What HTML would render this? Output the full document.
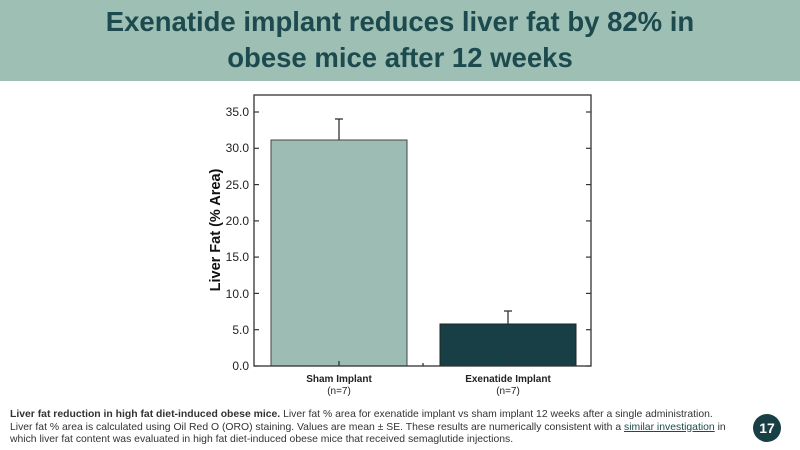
<!DOCTYPE html>
<html><head><meta charset="utf-8"><style>
body{margin:0;width:800px;height:450px;background:#fff;font-family:"Liberation Sans",sans-serif;overflow:hidden;position:relative}
.hdr{position:absolute;left:0;top:0;width:800px;height:81px;background:#9ebfb3}
.hdr div{text-align:center;color:#1d4a4e;font-weight:bold;font-size:27.5px;line-height:36px;padding-top:4px}
.cap{position:absolute;left:10px;top:409px;width:720px;font-size:10.4px;line-height:12.5px;color:#333}
.cap a{color:#1d4a4e;text-decoration:underline}
.num{position:absolute;left:753px;top:414px;width:28px;height:28px;border-radius:50%;background:#173f45;color:#fff;font-weight:bold;font-size:14px;text-align:center;line-height:28px}
</style></head><body>
<div class="hdr"><div>Exenatide implant reduces liver fat by 82% in<br>obese mice after 12 weeks</div></div>
<svg width="800" height="450" style="position:absolute;left:0;top:0">
<rect x="271" y="140" width="136" height="226" fill="#9dbdb4" stroke="#444" stroke-width="1"/>
<rect x="440" y="324" width="136" height="42" fill="#173f45" stroke="#222" stroke-width="1"/>
<g stroke="#333" stroke-width="1.3">
<line x1="339" y1="140" x2="339" y2="119"/><line x1="335" y1="119" x2="343" y2="119"/>
<line x1="508" y1="324" x2="508" y2="311"/><line x1="504" y1="311" x2="512" y2="311"/>
<line x1="339" y1="366" x2="339" y2="361"/><line x1="508" y1="366" x2="508" y2="361"/><line x1="423" y1="366" x2="423" y2="363"/>
</g>
<rect x="254" y="95" width="337" height="271" fill="none" stroke="#333" stroke-width="1.3"/>
<g stroke="#333" stroke-width="1.2">
<line x1="254" y1="366" x2="259" y2="366"/><line x1="591" y1="366" x2="586" y2="366"/>
<line x1="254" y1="329.7" x2="259" y2="329.7"/><line x1="591" y1="329.7" x2="586" y2="329.7"/>
<line x1="254" y1="293.4" x2="259" y2="293.4"/><line x1="591" y1="293.4" x2="586" y2="293.4"/>
<line x1="254" y1="257.1" x2="259" y2="257.1"/><line x1="591" y1="257.1" x2="586" y2="257.1"/>
<line x1="254" y1="220.9" x2="259" y2="220.9"/><line x1="591" y1="220.9" x2="586" y2="220.9"/>
<line x1="254" y1="184.6" x2="259" y2="184.6"/><line x1="591" y1="184.6" x2="586" y2="184.6"/>
<line x1="254" y1="148.3" x2="259" y2="148.3"/><line x1="591" y1="148.3" x2="586" y2="148.3"/>
<line x1="254" y1="112" x2="259" y2="112"/><line x1="591" y1="112" x2="586" y2="112"/>
</g>
<g font-family="Liberation Sans" font-size="12" fill="#222" text-anchor="end">
<text x="249" y="370">0.0</text><text x="249" y="334">5.0</text><text x="249" y="298">10.0</text>
<text x="249" y="261">15.0</text><text x="249" y="225">20.0</text><text x="249" y="189">25.0</text>
<text x="249" y="152">30.0</text><text x="249" y="116">35.0</text>
</g>
<text transform="translate(220,230) rotate(-90)" text-anchor="middle" font-family="Liberation Sans" font-weight="bold" font-size="14.5" fill="#111">Liver Fat (% Area)</text>
<g font-family="Liberation Sans" font-size="10" fill="#222" text-anchor="middle">
<text x="339" y="382" font-weight="bold">Sham Implant</text><text x="339" y="394">(n=7)</text>
<text x="508" y="382" font-weight="bold">Exenatide Implant</text><text x="508" y="394">(n=7)</text>
</g>
</svg>
<div class="cap"><b>Liver fat reduction in high fat diet-induced obese mice.</b> Liver fat % area for exenatide implant vs sham implant 12 weeks after a single administration. Liver fat % area is calculated using Oil Red O (ORO) staining. Values are mean ± SE. These results are numerically consistent with a <a>similar investigation</a> in which liver fat content was evaluated in high fat diet-induced obese mice that received semaglutide injections.</div>
<div class="num">17</div>
</body></html>
